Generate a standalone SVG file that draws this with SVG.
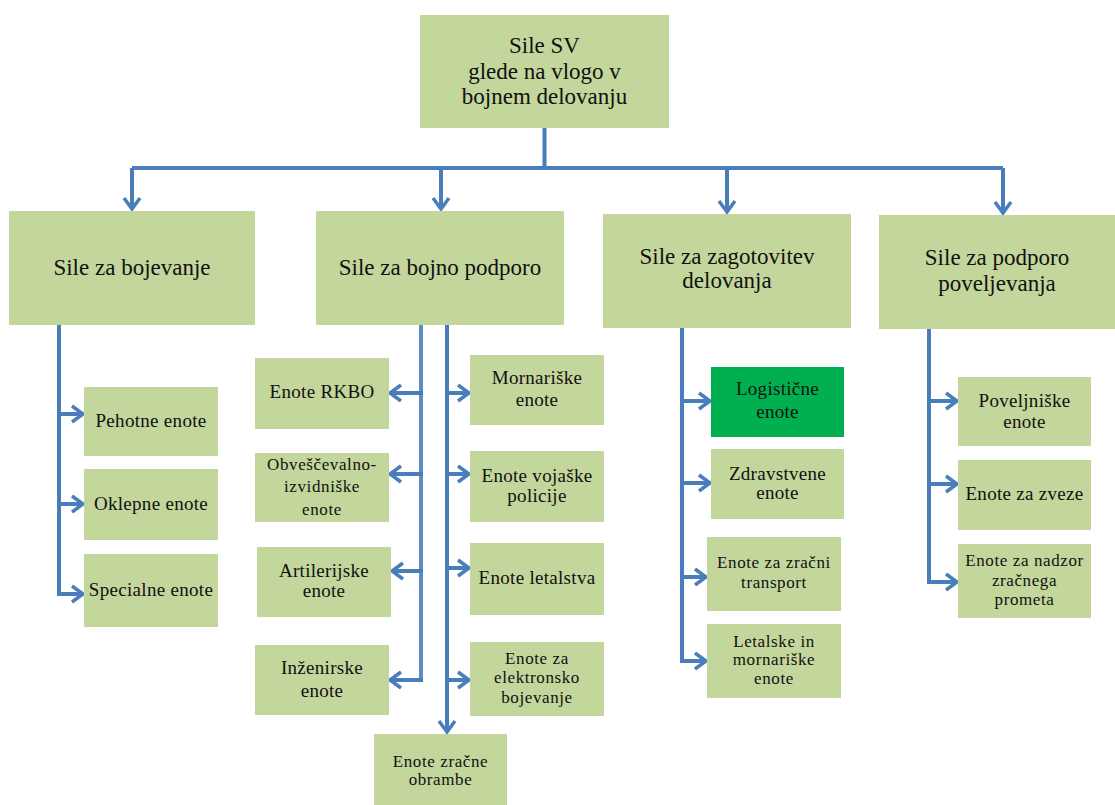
<svg xmlns="http://www.w3.org/2000/svg" width="1115" height="805" viewBox="0 0 1115 805">
<style>
.box{fill:#C3D69B}
.green{fill:#00B050}
.lbl text{fill:#111;text-anchor:middle}
.t1{font-size:23px}
.t2{font-size:19px;letter-spacing:0.3px}
.t3{font-size:17px;letter-spacing:0.6px}
.c{fill:none;stroke:#4A7EBB;stroke-width:4}
</style>
<defs>
<marker id="arr" markerUnits="userSpaceOnUse" markerWidth="16" markerHeight="20" viewBox="0 0 16 20" refX="13" refY="10" orient="auto">
<path d="M2,2 L13,10 L2,18" fill="none" stroke="#4A7EBB" stroke-width="3.5"/>
</marker>
</defs>
<rect width="1115" height="805" fill="#fff"/>
<g id="connectors">
<path class="c" d="M544.5 128 V168 M132 168 H1003"/>
<path class="c" d="M132 168 V209" marker-end="url(#arr)"/>
<path class="c" d="M441 168 V209" marker-end="url(#arr)"/>
<path class="c" d="M727 168 V212" marker-end="url(#arr)"/>
<path class="c" d="M1003 168 V213" marker-end="url(#arr)"/>
<path class="c" d="M59 325 V596"/>
<path class="c" d="M57 414 H83" marker-end="url(#arr)"/>
<path class="c" d="M57 504 H83" marker-end="url(#arr)"/>
<path class="c" d="M57 594 H83" marker-end="url(#arr)"/>
<path class="c" d="M421 318 V682" style="stroke:#5B8CC8"/>
<path class="c" d="M423 393 H390" marker-end="url(#arr)"/>
<path class="c" d="M423 474 H390" marker-end="url(#arr)"/>
<path class="c" d="M423 571 H392" marker-end="url(#arr)"/>
<path class="c" d="M423 680 H390" marker-end="url(#arr)"/>
<path class="c" d="M447 320 V732" marker-end="url(#arr)"/>
<path class="c" d="M445 393 H469" marker-end="url(#arr)"/>
<path class="c" d="M445 474 H469" marker-end="url(#arr)"/>
<path class="c" d="M445 568 H469" marker-end="url(#arr)"/>
<path class="c" d="M445 680 H469" marker-end="url(#arr)"/>
<path class="c" d="M682 328 V663"/>
<path class="c" d="M680 401 H710" marker-end="url(#arr)"/>
<path class="c" d="M680 483 H710" marker-end="url(#arr)"/>
<path class="c" d="M680 577 H706" marker-end="url(#arr)"/>
<path class="c" d="M680 661 H706" marker-end="url(#arr)"/>
<path class="c" d="M929 329 V584"/>
<path class="c" d="M927 401 H957" marker-end="url(#arr)"/>
<path class="c" d="M927 484 H957" marker-end="url(#arr)"/>
<path class="c" d="M927 582 H957" marker-end="url(#arr)"/>
</g>
<g class="lbl" font-family="'Liberation Serif', 'Times New Roman', serif">
<g id="root"><rect class="box" x="420" y="15" width="249" height="113"/>
<text class="t1" x="544.5" y="53">Sile SV</text><text class="t1" x="544.5" y="79">glede na vlogo v</text><text class="t1" x="544.5" y="104">bojnem delovanju</text></g>
<g id="bojevanje"><rect class="box" x="9" y="211" width="246" height="114"/><text class="t1" x="132" y="275">Sile za bojevanje</text></g>
<g id="bojnapodpora"><rect class="box" x="316" y="211" width="248" height="114"/><text class="t1" x="440" y="275">Sile za bojno podporo</text></g>
<g id="zagotovitev"><rect class="box" x="603" y="214" width="248" height="114"/><text class="t1" x="727" y="264">Sile za zagotovitev</text><text class="t1" x="727" y="288">delovanja</text></g>
<g id="poveljevanje"><rect class="box" x="879" y="215" width="236" height="114"/><text class="t1" x="997" y="265">Sile za podporo</text><text class="t1" x="997" y="291">poveljevanja</text></g>
<g id="pehotne"><rect class="box" x="84" y="387" width="134" height="69"/><text class="t2" x="151" y="427">Pehotne enote</text></g>
<g id="oklepne"><rect class="box" x="84" y="469" width="134" height="71"/><text class="t2" x="151" y="510">Oklepne enote</text></g>
<g id="specialne"><rect class="box" x="84" y="554" width="134" height="73"/><text class="t2" x="151" y="596">Specialne enote</text></g>
<g id="rkbo"><rect class="box" x="255" y="358" width="134" height="71"/><text class="t2" x="322" y="398">Enote RKBO</text></g>
<g id="obvescevalno"><rect class="box" x="255" y="453" width="134" height="69"/><text class="t3" x="322" y="470">Obveščevalno-</text><text class="t3" x="322" y="492">izvidniške</text><text class="t3" x="322" y="515">enote</text></g>
<g id="artilerijske"><rect class="box" x="257" y="547" width="134" height="70"/><text class="t2" x="324" y="577">Artilerijske</text><text class="t2" x="324" y="597">enote</text></g>
<g id="inzenirske"><rect class="box" x="255" y="645" width="134" height="70"/><text class="t2" x="322" y="674">Inženirske</text><text class="t2" x="322" y="697">enote</text></g>
<g id="mornariske"><rect class="box" x="470" y="355" width="134" height="70"/><text class="t2" x="537" y="384">Mornariške</text><text class="t2" x="537" y="406">enote</text></g>
<g id="policija"><rect class="box" x="470" y="451" width="134" height="71"/><text class="t2" x="537" y="482">Enote vojaške</text><text class="t2" x="537" y="502">policije</text></g>
<g id="letalstvo"><rect class="box" x="470" y="543" width="134" height="72"/><text class="t2" x="537" y="584">Enote letalstva</text></g>
<g id="elektronsko"><rect class="box" x="470" y="642" width="134" height="74"/><text class="t3" x="537" y="664">Enote za</text><text class="t3" x="537" y="683">elektronsko</text><text class="t3" x="537" y="703">bojevanje</text></g>
<g id="zracnaobramba"><rect class="box" x="374" y="734" width="133" height="71"/><text class="t3" x="440.5" y="767">Enote zračne</text><text class="t3" x="440.5" y="785">obrambe</text></g>
<g id="logisticne"><rect class="green" x="711" y="367" width="133" height="70"/><text class="t2" x="777.5" y="395">Logistične</text><text class="t2" x="777.5" y="418">enote</text></g>
<g id="zdravstvene"><rect class="box" x="711" y="449" width="133" height="70"/><text class="t2" x="777.5" y="480">Zdravstvene</text><text class="t2" x="777.5" y="499">enote</text></g>
<g id="transport"><rect class="box" x="707" y="537" width="134" height="74"/><text class="t3" x="774" y="568">Enote za zračni</text><text class="t3" x="774" y="588">transport</text></g>
<g id="letalske"><rect class="box" x="707" y="624" width="134" height="74"/><text class="t3" x="774" y="647">Letalske in</text><text class="t3" x="774" y="665">mornariške</text><text class="t3" x="774" y="684">enote</text></g>
<g id="poveljniske"><rect class="box" x="958" y="377" width="133" height="69"/><text class="t2" x="1024.5" y="407">Poveljniške</text><text class="t2" x="1024.5" y="428">enote</text></g>
<g id="zveze"><rect class="box" x="958" y="460" width="133" height="70"/><text class="t2" x="1024.5" y="500">Enote za zveze</text></g>
<g id="nadzor"><rect class="box" x="958" y="544" width="133" height="74"/><text class="t3" x="1024.5" y="566">Enote za nadzor</text><text class="t3" x="1024.5" y="586">zračnega</text><text class="t3" x="1024.5" y="605">prometa</text></g>
</g>
</svg>
